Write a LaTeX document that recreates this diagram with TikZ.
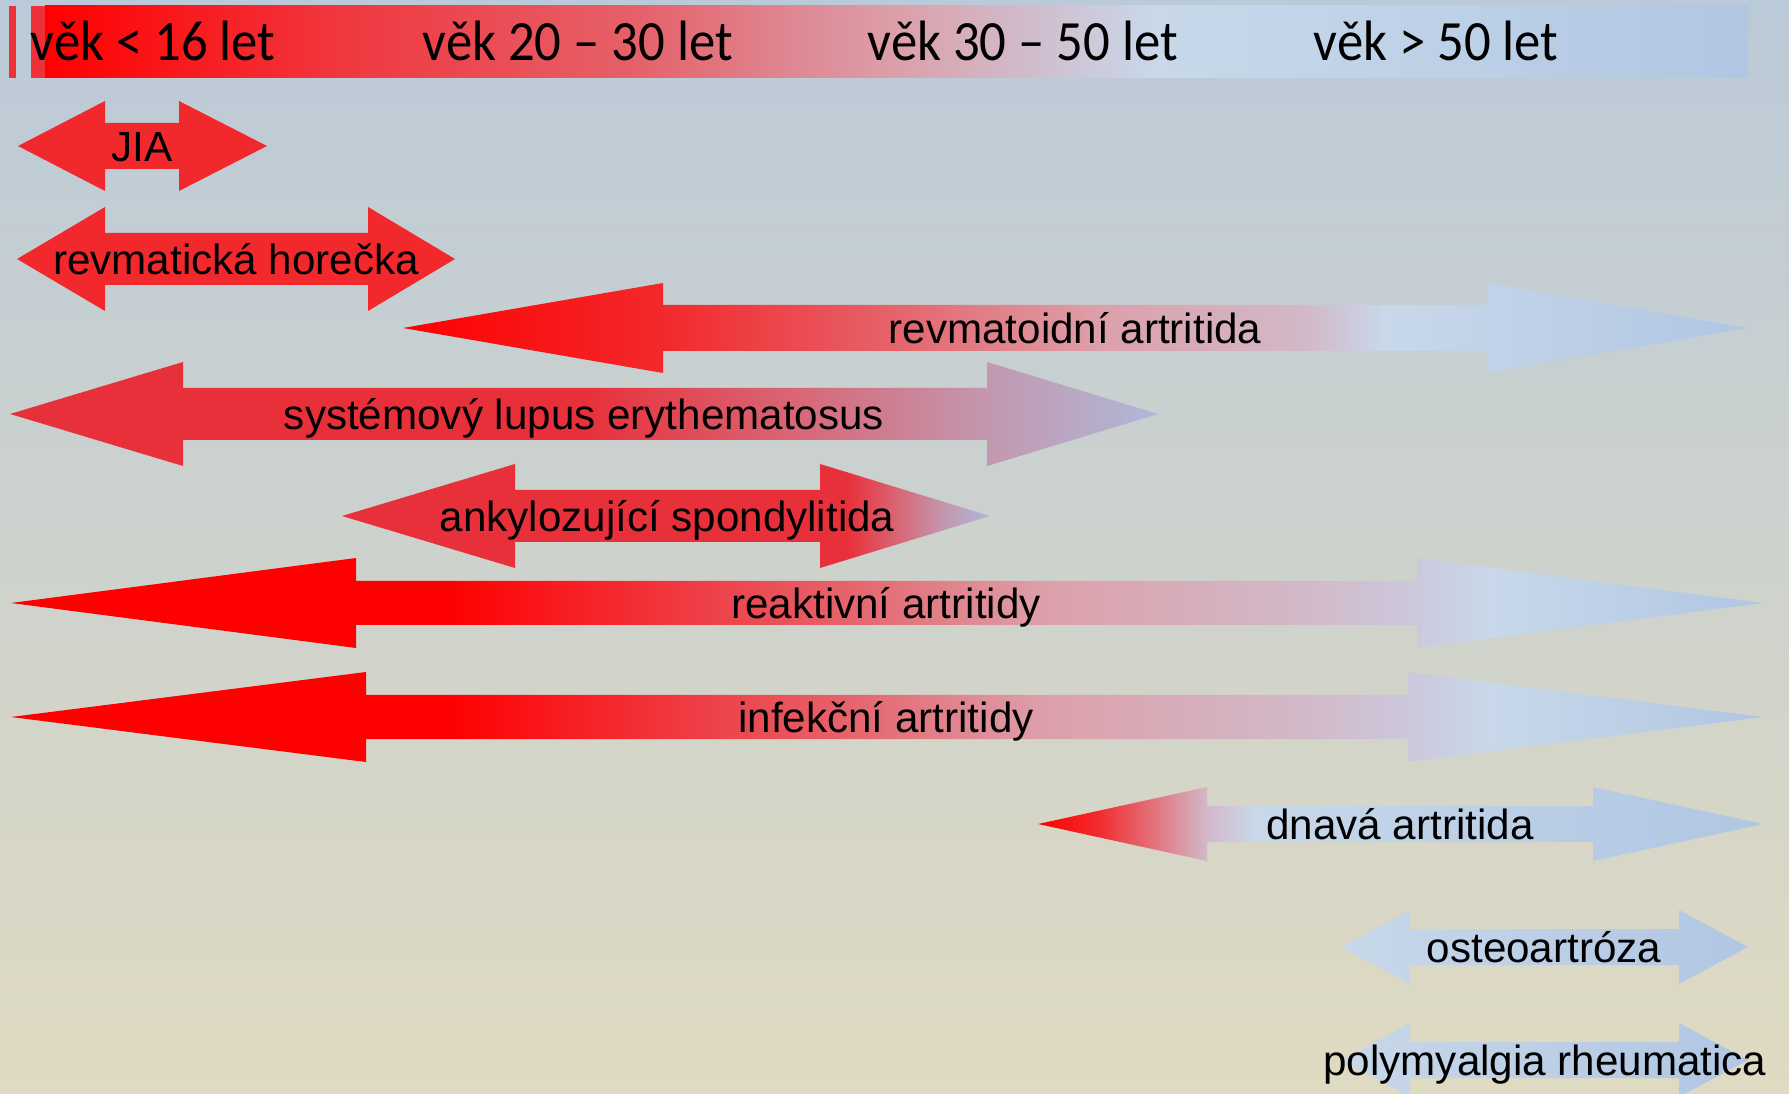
\documentclass[tikz,border=0pt]{standalone}
\usepackage{fontspec}
\setmainfont{Liberation Sans}
\newfontfamily\barfont{Carlito}

\definecolor{bgTop}{HTML}{BBCAD8}
\definecolor{bgMid}{HTML}{D0D5CD}
\definecolor{bgBot}{HTML}{DFDAC2}
\definecolor{ageStrip}{HTML}{EE3038}
\definecolor{pureRed}{HTML}{FF0000}
\definecolor{feverRed}{HTML}{F2292C}
\definecolor{lupusRed}{HTML}{E8303A}
\definecolor{warmRed}{HTML}{F03840}
\definecolor{roseRed}{HTML}{E66068}
\definecolor{dustyRose}{HTML}{DE8A96}
\definecolor{palePink}{HTML}{DCA0AA}
\definecolor{lilac}{HTML}{D2B8C8}
\definecolor{lavender}{HTML}{CCC8DC}
\definecolor{paleBlue}{HTML}{C8D8EA}
\definecolor{midBlue}{HTML}{BCD0E6}
\definecolor{deepBlue}{HTML}{B0C6E2}
\definecolor{mauve}{HTML}{D86878}
\definecolor{plum}{HTML}{C298B0}
\definecolor{periwinkle}{HTML}{B0B8D8}

% gradients (25bp = left end, 75bp = right end of the shape)
\pgfdeclarehorizontalshading{agebar}{100bp}{color(0bp)=(pureRed); color(25bp)=(pureRed);
  color(33.8bp)=(warmRed); color(42.2bp)=(roseRed); color(47.3bp)=(dustyRose);
  color(50.1bp)=(palePink); color(53.4bp)=(lilac); color(57.6bp)=(paleBlue);
  color(66.8bp)=(midBlue); color(75bp)=(deepBlue); color(100bp)=(deepBlue)}
\pgfdeclarehorizontalshading{ratrend}{100bp}{color(0bp)=(pureRed); color(25bp)=(pureRed);
  color(34.7bp)=(feverRed); color(42.8bp)=(roseRed); color(50.9bp)=(palePink);
  color(58.5bp)=(lilac); color(61.5bp)=(paleBlue); color(75bp)=(deepBlue); color(100bp)=(deepBlue)}
\pgfdeclarehorizontalshading{sletrend}{100bp}{color(0bp)=(lupusRed); color(50bp)=(lupusRed);
  color(59.5bp)=(mauve); color(67.7bp)=(plum); color(75bp)=(periwinkle); color(100bp)=(periwinkle)}
\pgfdeclarehorizontalshading{astrend}{100bp}{color(0bp)=(lupusRed); color(64bp)=(lupusRed);
  color(68bp)=(mauve); color(71.5bp)=(plum); color(75bp)=(periwinkle); color(100bp)=(periwinkle)}
\pgfdeclarehorizontalshading{reacttrend}{100bp}{color(0bp)=(pureRed); color(37.5bp)=(pureRed);
  color(44bp)=(warmRed); color(48.5bp)=(roseRed); color(54.5bp)=(palePink);
  color(61.8bp)=(lilac); color(65bp)=(lavender); color(67.3bp)=(paleBlue);
  color(75bp)=(deepBlue); color(100bp)=(deepBlue)}
\pgfdeclarehorizontalshading{gouttrend}{100bp}{color(0bp)=(pureRed); color(25bp)=(pureRed);
  color(29bp)=(feverRed); color(32bp)=(roseRed); color(36.6bp)=(lilac);
  color(40bp)=(paleBlue); color(55bp)=(midBlue); color(75bp)=(deepBlue); color(100bp)=(deepBlue)}
\pgfdeclarehorizontalshading{oatrend}{100bp}{color(0bp)=(paleBlue); color(25bp)=(paleBlue);
  color(75bp)=(deepBlue); color(100bp)=(deepBlue)}

\begin{document}
\begin{tikzpicture}[x=0.1mm, y=-0.1mm,
    dx/.style={font=\fontsize{12}{14}\selectfont, text height=8.6pt, text depth=0pt, inner sep=0pt},
    agelbl/.style={font=\barfont\fontsize{15}{18}\selectfont, inner sep=0pt, anchor=base west}]
  % Background
  \useasboundingbox (0,0) rectangle (1789,1094);
  \clip (0,0) rectangle (1789,1094);
  \shade[top color=bgTop, middle color=bgMid, bottom color=bgBot] (0,0) rectangle (1789,1094);

  % Age bar
  \fill[ageStrip] (9,6) rectangle (16,78);
  \fill[ageStrip] (31,6) rectangle (45,78);
  \shade[shading=agebar] (45,6) rectangle (1748,78);
  \node[agelbl] (age1) at (30,61)   {\scalebox{1}[1.08]{věk < 16 let}};
  \node[agelbl] (age2) at (422,61)  {\scalebox{1}[1.08]{věk 20 – 30 let}};
  \node[agelbl] (age3) at (867,61)  {\scalebox{1}[1.08]{věk 30 – 50 let}};
  \node[agelbl] (age4) at (1313,61) {\scalebox{1}[1.08]{věk > 50 let}};

  % JIA
  \fill[feverRed] (18,146) -- (105,101) -- (105,123) -- (179,123) -- (179,101) -- (267,146)
    -- (179,191) -- (179,169) -- (105,169) -- (105,191) -- cycle;
  \node[dx] (jia) at (142,146) {JIA};

  % Rheumatic fever
  \fill[feverRed] (17,259) -- (105,207) -- (105,233) -- (368,233) -- (368,207) -- (455,259)
    -- (368,311) -- (368,285) -- (105,285) -- (105,311) -- cycle;
  \node[dx] (fever) at (236,259) {revmatická horečka};

  % Rheumatoid arthritis
  \shade[shading=ratrend] (403,328) -- (663,283) -- (663,305) -- (1488,305) -- (1488,283) -- (1748,328)
    -- (1488,373) -- (1488,351) -- (663,351) -- (663,373) -- cycle;
  \node[dx] (ra) at (1075,328) {revmatoidní artritida};

  % SLE
  \shade[shading=sletrend] (10,414) -- (183,362) -- (183,388) -- (987,388) -- (987,362) -- (1158,414)
    -- (987,466) -- (987,440) -- (183,440) -- (183,466) -- cycle;
  \node[dx] (sle) at (584,414) {systémový lupus erythematosus};

  % Ankylosing spondylitis
  \shade[shading=astrend] (342,516) -- (515,464) -- (515,490) -- (820,490) -- (820,464) -- (990,516)
    -- (820,568) -- (820,542) -- (515,542) -- (515,568) -- cycle;
  \node[dx] (as) at (667,516) {ankylozující spondylitida};

  % Reactive arthritis
  \shade[shading=reacttrend] (11,603) -- (356,558) -- (356,581) -- (1417,581) -- (1417,558) -- (1763,603)
    -- (1417,648) -- (1417,625) -- (356,625) -- (356,648) -- cycle;
  \node[dx] (reactive) at (886,603) {reaktivní artritidy};

  % Infectious arthritis
  \shade[shading=reacttrend] (11,717) -- (366,672) -- (366,695) -- (1408,695) -- (1408,672) -- (1763,717)
    -- (1408,762) -- (1408,739) -- (366,739) -- (366,762) -- cycle;
  \node[dx] (infect) at (886,717) {infekční artritidy};

  % Gout
  \shade[shading=gouttrend] (1038,824) -- (1207,787) -- (1207,806) -- (1593,806) -- (1593,787) -- (1763,824)
    -- (1593,861) -- (1593,842) -- (1207,842) -- (1207,861) -- cycle;
  \node[dx] (gout) at (1400,824) {dnavá artritida};

  % Osteoarthritis
  \shade[shading=oatrend] (1342,947) -- (1410,910) -- (1410,929) -- (1679,929) -- (1679,910) -- (1748,947)
    -- (1679,984) -- (1679,965) -- (1410,965) -- (1410,984) -- cycle;
  \node[dx] (oa) at (1544,947) {osteoartróza};

  % PMR
  \shade[shading=oatrend] (1342,1060) -- (1410,1023) -- (1410,1042) -- (1679,1042) -- (1679,1023) -- (1748,1060)
    -- (1679,1097) -- (1679,1078) -- (1410,1078) -- (1410,1097) -- cycle;
  \node[dx] (pmr) at (1545,1060) {polymyalgia rheumatica};
\end{tikzpicture}
\end{document}
